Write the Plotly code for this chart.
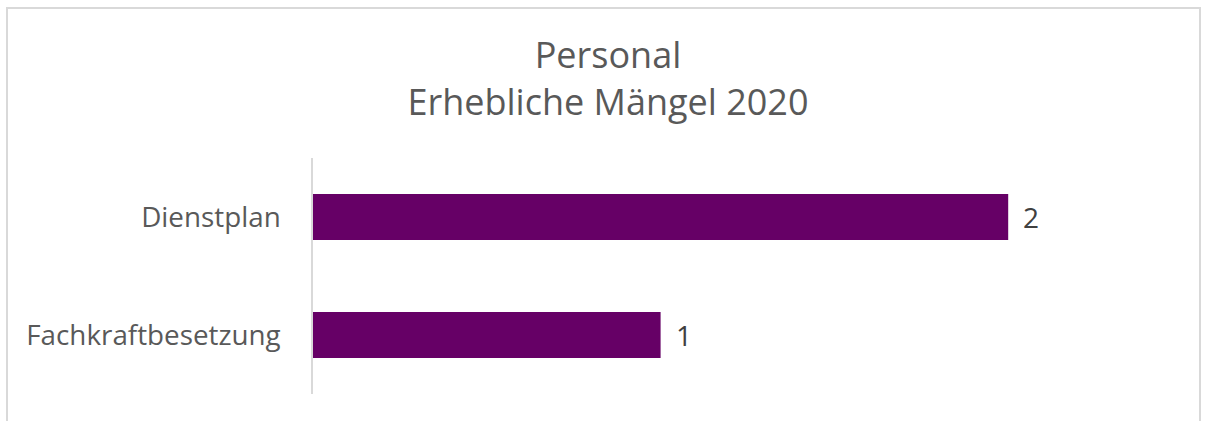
import plotly.graph_objects as go

categories = ["Fachkraftbesetzung", "Dienstplan"]
values = [1, 2]
title_lines = ["Personal", "Erhebliche Mängel 2020"]

W, H = 1206, 421
L, R, T, B = 313, 24, 158, 27
pw, ph = W - L - R, H - T - B


def px_x(p):
    return (p - L) / pw


def px_y(p):
    return 1 + (T - p) / ph


fig = go.Figure(go.Bar(
    x=values, y=categories, orientation="h",
    marker=dict(color="#660066", line=dict(width=0)),
    width=0.39,
    cliponaxis=False,
))

annotations = [
    dict(x=v, y=c, xref="x", yref="y", text=str(v), showarrow=False,
         xanchor="left", yanchor="middle", xshift=13,
         font=dict(size=28, color="#404040", family="Open Sans"))
    for c, v in zip(categories, values)
]

fig.update_layout(
    width=W, height=H,
    margin=dict(l=L, r=R, t=T, b=B, autoexpand=False),
    paper_bgcolor="white", plot_bgcolor="white",
    font=dict(family="Open Sans", color="#595959"),
    showlegend=False,
    title=dict(text="<br>".join(title_lines), x=608 / W, xanchor="center",
               y=1 - 68 / H, yanchor="top",
               font=dict(size=36, color="#595959")),
    xaxis=dict(range=[0, 2.5], visible=False, fixedrange=True),
    yaxis=dict(showline=True, linecolor="#d9d9d9", linewidth=1.5,
               ticks="", ticklabelstandoff=25,
               tickfont=dict(size=27.8, color="#595959"), showgrid=False,
               fixedrange=True),
    annotations=annotations,
    shapes=[dict(type="rect", xref="paper", yref="paper",
                 x0=px_x(7), x1=px_x(1200),
                 y0=px_y(440), y1=px_y(8),
                 line=dict(color="#d9d9d9", width=2), layer="below")],
)
fig.write_html("out.html", config={"displayModeBar": False},
               post_script="document.body.style.margin='0';")
